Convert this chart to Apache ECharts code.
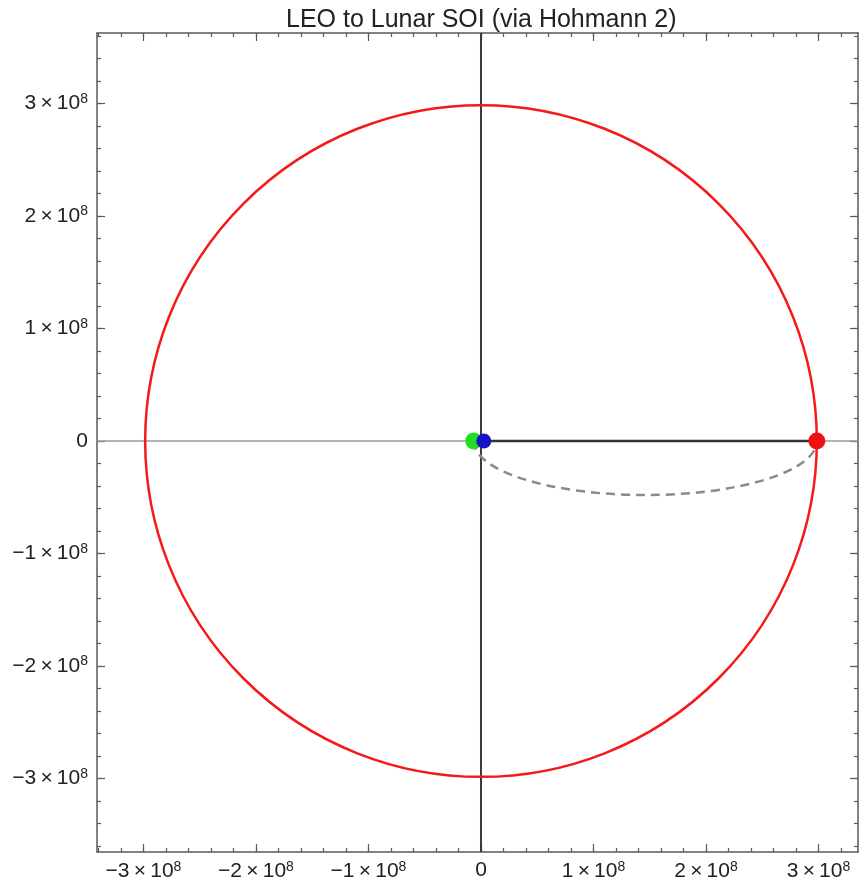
<!DOCTYPE html>
<html>
<head>
<meta charset="utf-8">
<script src="https://cdn.jsdelivr.net/npm/echarts@6/dist/echarts.min.js"></script>
<style>
html,body{margin:0;padding:0;background:#fff;}
#chart{width:861px;height:890px;}
</style>
</head>
<body>
<div id="chart"></div>
<script>
// ---- data ----
const titleText = 'LEO to Lunar SOI (via Hohmann 2)';
const xRange = [-3.413e8, 3.351e8];
const yRange = [-3.653e8, 3.627e8];
const majorTicks = [-3e8, -2e8, -1e8, 0, 1e8, 2e8, 3e8];
const minorStep = 0.2e8;
const soiRadius = 2.985e8;              // red circle radius
const soiCenter = [0, 0];
const transferPeri = -6.5e6;            // dashed half-ellipse start (x)
const transferApo = 2.985e8;            // dashed half-ellipse end (x)
const transferSemiMinor = 4.8e7;
const earthToSoiLine = [[0, 0], [2.985e8, 0]];
const leoPoint = [[-6.5e6, 0]];
const departPoint = [[2.5e6, 0]];
const arrivalPoint = [[2.985e8, 0]];

function minorList(r) {
  const out = [];
  for (let k = Math.ceil(r[0] / minorStep); k * minorStep <= r[1]; k++) out.push(Math.round(k * minorStep));
  return out;
}
const xMinor = minorList(xRange), yMinor = minorList(yRange);

const FONT = 'Liberation Sans';
const frameColor = '#5a5a5a';
const rich = {
  m: {fontSize: 21, color: '#222', fontFamily: FONT},
  s: {fontSize: 14, color: '#222', fontFamily: FONT, padding: [0, 0, 9, 0]}
};
function fmt(v) {
  const n = Math.round(v / 1e8);
  if (n === 0) return '{m|0}';
  return '{m|' + (n < 0 ? '\u2212' : '') + Math.abs(n) + '\u2009\u00d7\u200910}{s|8}';
}

function axis(kind, position, range, ticks, len, labels) {
  return {
    type: 'value', position: position, min: range[0], max: range[1],
    splitLine: {show: false},
    axisLine: {show: len === 8, onZero: false, lineStyle: {color: frameColor, width: 1.5}},
    axisTick: {show: true, inside: true, length: len, customValues: ticks, lineStyle: {color: frameColor, width: 1.2}},
    axisLabel: labels ? {show: true, customValues: majorTicks, formatter: fmt, rich: rich, margin: kind === 'x' ? 8 : 9} : {show: false}
  };
}

const chart = echarts.init(document.getElementById('chart'), null, {renderer: 'canvas'});
const option = {
  animation: false,
  backgroundColor: '#fff',
  title: {
    text: titleText, left: 281, top: 3,
    textStyle: {fontFamily: FONT, fontSize: 25, fontWeight: 'normal', color: '#222'}
  },
  grid: {left: 97, right: 3, top: 33, bottom: 38},
  xAxis: [
    axis('x', 'bottom', xRange, majorTicks, 8, true),
    axis('x', 'bottom', xRange, xMinor, 4, false),
    axis('x', 'top', xRange, majorTicks, 8, false),
    axis('x', 'top', xRange, xMinor, 4, false)
  ],
  yAxis: [
    axis('y', 'left', yRange, majorTicks, 8, true),
    axis('y', 'left', yRange, yMinor, 4, false),
    axis('y', 'right', yRange, majorTicks, 8, false),
    axis('y', 'right', yRange, yMinor, 4, false)
  ],
  series: [
    {
      type: 'line', data: [[xRange[0], 0], [xRange[1], 0]], symbol: 'none', silent: true,
      lineStyle: {color: '#9a9a9a', width: 1.5}, z: 1
    },
    {
      type: 'line', data: [[0, yRange[0]], [0, yRange[1]]], symbol: 'none', silent: true,
      lineStyle: {color: '#3a3a3a', width: 2}, z: 1
    },
    {
      type: 'custom', coordinateSystem: 'cartesian2d', silent: true, z: 3,
      data: [[soiCenter[0], soiCenter[1], soiRadius]],
      renderItem: function (params, api) {
        const c = api.coord([api.value(0), api.value(1)]);
        const r = api.size([api.value(2), 0])[0];
        return {type: 'circle', shape: {cx: c[0], cy: c[1], r: r},
          style: {fill: 'none', stroke: '#f51a1a', lineWidth: 2.5}};
      }
    },
    {
      type: 'line', data: earthToSoiLine, symbol: 'none', silent: true,
      lineStyle: {color: '#333', width: 2.5}, z: 2
    },
    {
      type: 'custom', coordinateSystem: 'cartesian2d', silent: true, z: 2,
      data: [[transferPeri, transferApo, transferSemiMinor]],
      renderItem: function (params, api) {
        const p1 = api.coord([api.value(0), 0]);
        const p2 = api.coord([api.value(1), 0]);
        const rx = (p2[0] - p1[0]) / 2;
        const ry = api.size([0, api.value(2)])[1];
        const d = 'M ' + p1[0] + ' ' + p1[1] + ' A ' + rx + ' ' + ry + ' 0 0 0 ' + p2[0] + ' ' + p2[1];
        return {type: 'path', shape: {pathData: d},
          style: {fill: 'none', stroke: '#8a8a8a', lineWidth: 2.5, lineDash: [9, 6]}};
      }
    },
    {type: 'scatter', data: leoPoint, symbolSize: 17, itemStyle: {color: '#22dd22', opacity: 1}, z: 5, silent: true},
    {type: 'scatter', data: departPoint, symbolSize: 15, itemStyle: {color: '#1414c4', opacity: 1}, z: 6, silent: true},
    {type: 'scatter', data: arrivalPoint, symbolSize: 17, itemStyle: {color: '#ee1111', opacity: 1}, z: 6, silent: true}
  ]
};
chart.setOption(option);
</script>
</body>
</html>
